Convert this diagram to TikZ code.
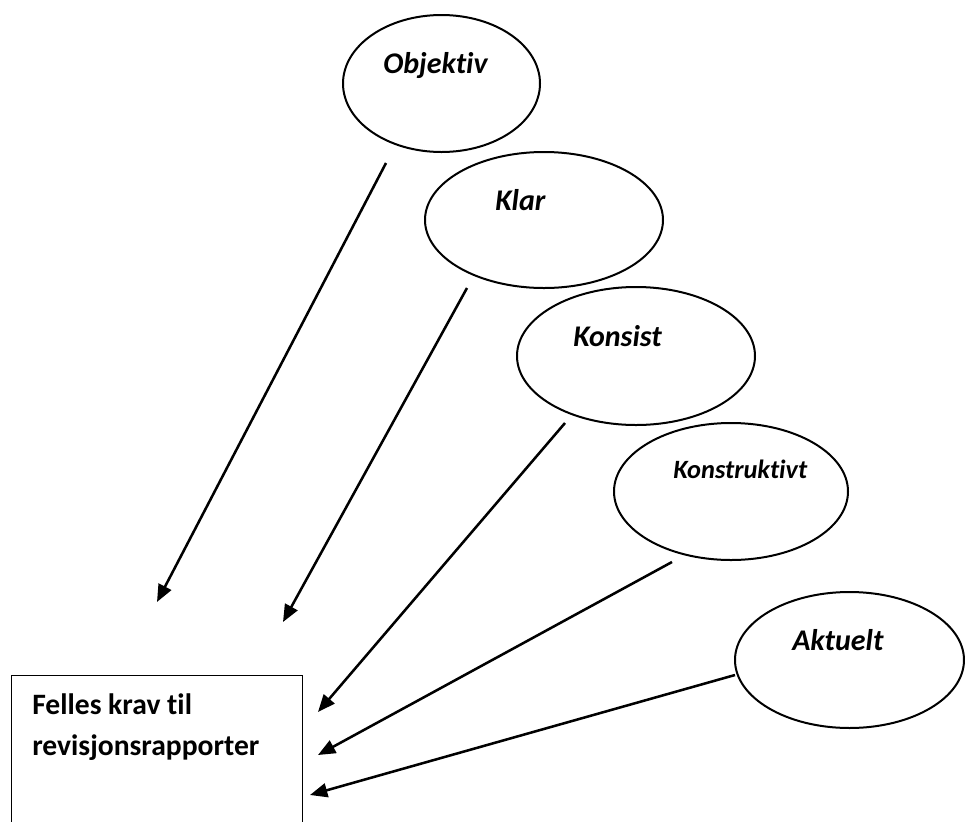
\documentclass[tikz,border=0pt]{standalone}
\usepackage{fontspec}
\setmainfont[Ligatures=NoCommon]{Carlito}
\usetikzlibrary{shapes.geometric,arrows.meta}
\begin{document}
\begin{tikzpicture}[x=0.75pt,y=-0.75pt,
  oval/.style={draw,ellipse,line width=1.5pt,inner sep=0pt},
  lbl/.style={anchor=base west,inner sep=0pt,font=\fontsize{22.5}{26}\selectfont\bfseries\itshape},
  smalllbl/.style={anchor=base west,inner sep=0pt,font=\fontsize{19.8}{23}\selectfont\bfseries\itshape},
  boxtxt/.style={anchor=base west,inner sep=0pt,font=\fontsize{22.2}{26}\selectfont\bfseries},
  arr/.style={line width=1.9pt,-{Triangle[length=13pt,width=10.5pt]}}]
\useasboundingbox (0,0) rectangle (965,822);
% ellipses
\node[oval,minimum width=147.75pt,minimum height=102.75pt] (objektiv) at (441.5,83.5) {};
\node[oval,minimum width=178.5pt,minimum height=102pt] (klar) at (544,220) {};
\node[oval,minimum width=178.5pt,minimum height=103.5pt] (konsist) at (636,356) {};
\node[oval,minimum width=175.5pt,minimum height=102.75pt] (konstruktivt) at (731,491.5) {};
\node[oval,minimum width=171.75pt,minimum height=102pt] (aktuelt) at (849.5,660) {};
% labels
\node[lbl] (tobj) at (383,73) {Objektiv};
\node[lbl] (tklar) at (495,210.5) {Klar};
\node[lbl] (tkons) at (573,346.5) {Konsist};
\node[smalllbl] (tkonstr) at (673,478) {Konstruktivt};
\node[lbl] (takt) at (792,650) {Aktuelt};
% box
\node[draw,line width=1pt,anchor=north west,minimum width=218.25pt,minimum height=130pt,inner sep=0pt] (box) at (11,675) {};
\node[boxtxt] (t1) at (32,714) {Felles krav til};
\node[boxtxt] (t2) at (32,755) {revisjonsrapporter};
% arrow coordinates
\coordinate (s1) at (386,163);
\coordinate (e1) at (157,602);
\coordinate (s2) at (467,288);
\coordinate (e2) at (283,622);
\coordinate (s3) at (565,423);
\coordinate (e3) at (318,712);
\coordinate (s4) at (672,562);
\coordinate (e4) at (318,755);
\coordinate (s5) at (735,675);
\coordinate (e5) at (310,795);
\draw[arr] (s1) -- (e1);
\draw[arr] (s2) -- (e2);
\draw[arr] (s3) -- (e3);
\draw[arr] (s4) -- (e4);
\draw[arr] (s5) -- (e5);
\end{tikzpicture}
\end{document}
